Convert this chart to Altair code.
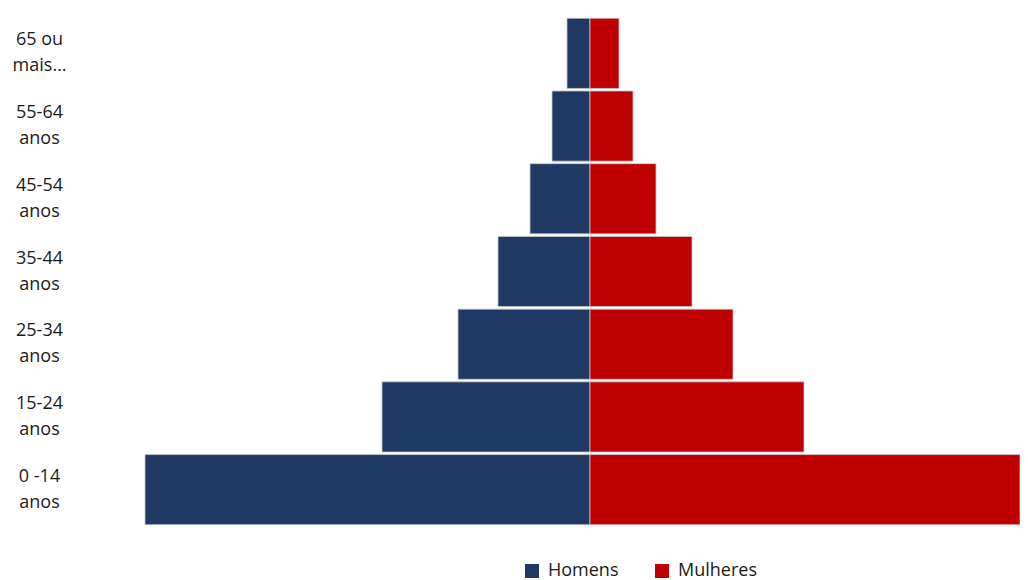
import altair as alt
import pandas as pd

faixas = ["65 ou|mais…", "55-64|anos", "45-54|anos", "35-44|anos",
          "25-34|anos", "15-24|anos", "0 -14|anos"]
homens = [2.3, 3.8, 6.0, 9.2, 13.2, 20.8, 44.5]
mulheres = [2.9, 4.3, 6.6, 10.2, 14.3, 21.4, 45.0]
sexos = ["Homens", "Mulheres"]
cores = ["#203864", "#C00000"]

rows = []
for f, h, m in zip(faixas, homens, mulheres):
    rows.append({"faixa": f, "sexo": "Homens", "valor": -h})
    rows.append({"faixa": f, "sexo": "Mulheres", "valor": m})
df = pd.DataFrame(rows)

chart = alt.Chart(df).mark_bar(
    stroke="#C8C8C8", strokeWidth=0.8
).encode(
    y=alt.Y("faixa:N", sort=faixas,
            scale=alt.Scale(paddingInner=0.035, paddingOuter=0.0175),
            axis=alt.Axis(title=None, ticks=False, tickSize=0, domain=False,
                          labelAlign="center", labelBaseline="middle",
                          labelPadding=106, labelOffset=-13,
                          labelFont="Open Sans",
                          labelFontSize=18, labelLineHeight=26,
                          labelColor="#1a1a1a",
                          labelExpr="split(datum.label, '|')")),
    x=alt.X("valor:Q", scale=alt.Scale(domain=[-44.5, 43.0], clamp=True, nice=False, zero=True),
            axis=None),
    color=alt.Color("sexo:N", scale=alt.Scale(domain=sexos, range=cores),
                    legend=alt.Legend(title=None, orient="none", direction="horizontal",
                                      legendX=378, legendY=545, padding=0,
                                      symbolType="square", symbolSize=196,
                                      symbolStrokeWidth=0, labelOffset=7,
                                      columnPadding=34, labelFont="Open Sans",
                                      labelFontSize=18, labelColor="#1a1a1a")),
).properties(
    width=875, height=509,
    autosize=alt.AutoSizeParams(type="none"),
    padding={"left": 137, "top": 9, "right": 0, "bottom": 54},
).configure_view(stroke=None)

chart.save("out.html", embed_options={"renderer": "svg", "actions": False})
